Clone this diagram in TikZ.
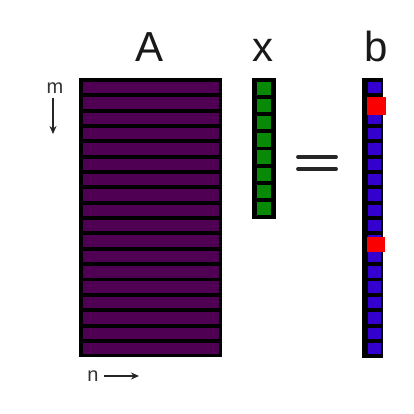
\documentclass[tikz,border=0pt]{standalone}
\usepackage{fontspec}
\setmainfont{Liberation Sans}
\usetikzlibrary{arrows.meta}
\definecolor{apurple}{RGB}{80,0,82}
\definecolor{xgreen}{RGB}{8,138,8}
\definecolor{bblue}{RGB}{52,0,208}
\definecolor{bred}{RGB}{250,0,0}
\begin{document}
\begin{tikzpicture}[x=1pt,y=-1pt,
  frame/.style={rectangle,fill=black,draw=none,inner sep=0pt,outer sep=0pt,anchor=north west},
  biglabel/.style={anchor=base,inner sep=0pt,font=\fontsize{42}{42}\selectfont,text=black!90},
  smalllabel/.style={inner sep=0pt,font=\fontsize{20}{20}\selectfont,text=black!80},
  dimarrow/.style={line width=1.3pt,-{Stealth[length=8pt,width=7pt]},black!85},
  eqbar/.style={line width=3.8pt,line cap=round,black!85}]
\useasboundingbox (0,0) rectangle (413,414);
\fill[white] (0,0) rectangle (413,414);
% frames
\node[frame,minimum width=143pt,minimum height=279pt] (A) at (79,78) {};
\node[frame,minimum width=24pt,minimum height=141pt] (x) at (252,78) {};
\node[frame,minimum width=21pt,minimum height=280pt] (b) at (362,78) {};
% cells
\foreach \i in {0,...,17} \fill[apurple] (83,81.8+\i*15.36) rectangle ++(136,11.4);
\foreach \i in {0,...,7} \fill[xgreen] (257,81.84+\i*17.14) rectangle ++(14,13.3);
\foreach \i in {0,...,17} \fill[bblue] (367.5,81.8+\i*15.36) rectangle ++(13,11.4);
\fill[bred] (366.5,97) rectangle (385.5,115);
\fill[bred] (366.5,236.5) rectangle (385,251.5);
% labels
\node[biglabel] (Alab) at (150,62) {A};
\node[biglabel] (xlab) at (263,62) {x};
\node[biglabel] (blab) at (376,62) {b};
% equals
\draw[eqbar] (298,157) -- (336,157);
\draw[eqbar] (298,169) -- (336,169);
% m and n
\node[smalllabel] (mlab) at (55,88) {m};
\coordinate (mend) at (53,134);
\draw[dimarrow] (53,98) -- (mend);
\node[smalllabel] (nlab) at (93,376) {n};
\coordinate (nend) at (139,376);
\draw[dimarrow] (104,376) -- (nend);
\end{tikzpicture}
\end{document}
